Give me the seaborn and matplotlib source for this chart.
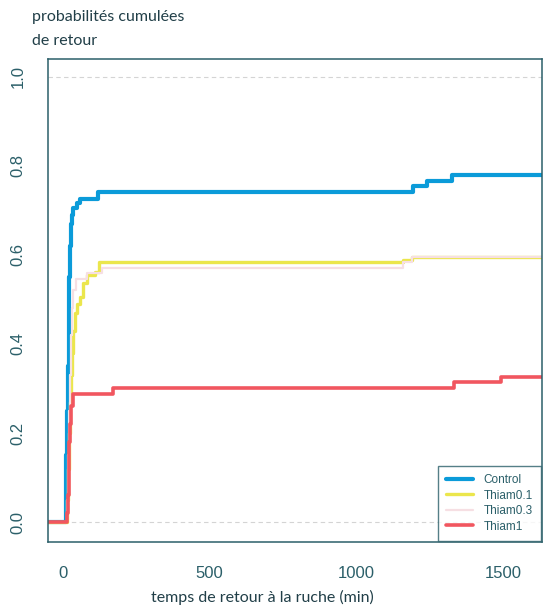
import pandas as pd
import matplotlib
matplotlib.use("Agg")
import matplotlib.pyplot as plt
import seaborn as sns

# courbes de retour cumulées
groups = ["Control", "Thiam0.1", "Thiam0.3", "Thiam1"]

t_control = [-60, 10, 12, 15, 17, 20, 22, 25, 28, 31, 33, 47, 57, 118, 1194, 1241, 1327, 1700]
p_control = [0, 0.10, 0.15, 0.25, 0.35, 0.45, 0.55, 0.62, 0.67, 0.69, 0.706, 0.717, 0.726, 0.742, 0.755, 0.766, 0.780, 0.780]

t_thiam01 = [-60, 15, 18, 20, 23, 27, 30, 35, 40, 47, 57, 67, 81, 108, 122, 1157, 1190, 1700]
p_thiam01 = [0, 0.05, 0.12, 0.20, 0.27, 0.33, 0.38, 0.43, 0.47, 0.49, 0.505, 0.537, 0.555, 0.562, 0.584, 0.588, 0.596, 0.596]

t_thiam03 = [-60, 14, 17, 20, 23, 27, 30, 35, 45, 81, 133, 1160, 1190, 1700]
p_thiam03 = [0, 0.05, 0.15, 0.25, 0.33, 0.42, 0.48, 0.52, 0.545, 0.560, 0.570, 0.584, 0.596, 0.596]

t_thiam1 = [-60, 13, 16, 19, 22, 25, 28, 33, 170, 1331, 1491, 1700]
p_thiam1 = [0, 0.02, 0.06, 0.12, 0.18, 0.22, 0.26, 0.288, 0.301, 0.315, 0.326, 0.326]

colors = ["#0b9bd9", "#ebe64c", "#f6dfe3", "#f1565f"]
widths = [3.0, 2.4, 1.6, 2.6]

xticks = [0, 500, 1000, 1500]
yticks = [0.0, 0.2, 0.4, 0.6, 0.8, 1.0]

frames = []
for g, t, p in zip(groups, [t_control, t_thiam01, t_thiam03, t_thiam1],
                   [p_control, p_thiam01, p_thiam03, p_thiam1]):
    frames.append(pd.DataFrame({"temps": t, "prob": p, "groupe": g}))
df = pd.concat(frames, ignore_index=True)

sns.set_style("white")
plt.rcParams["font.family"] = ["Liberation Sans", "DejaVu Sans"]
ink = "#2b5f69"
txt = "#213f48"

fig = plt.figure(figsize=(5.43, 6.07), dpi=100)
ax = fig.add_axes([0.0884, 0.107, 0.9098, 0.796])

for y in [0.0, 1.0]:
    ax.axhline(y, color="#d4d4d4", lw=0.8, ls=(0, (4, 3)), zorder=0)

for g, c, w in zip(groups, colors, widths):
    sns.lineplot(data=df[df["groupe"] == g], x="temps", y="prob", color=c,
                 linewidth=w, drawstyle="steps-post", estimator=None,
                 label=g, ax=ax)

ax.set_xlim(-51, 1632)
ax.set_ylim(-0.045, 1.04)
ax.set_xticks(xticks)
ax.set_xticklabels([str(v) for v in xticks])
ax.set_yticks(yticks)
ax.set_yticklabels([f"{v:.1f}" for v in yticks], rotation=90, va="center")
ax.set_xlabel("")
ax.set_ylabel("")
ax.tick_params(axis="both", direction="out", length=9, width=1, color=ink,
               labelcolor=ink, labelsize=12)
ax.tick_params(axis="x", pad=8)
ax.tick_params(axis="y", pad=7)
for s in ax.spines.values():
    s.set_color(ink)
    s.set_linewidth(1.1)

leg = ax.legend(loc="lower right", borderaxespad=0.1, fancybox=False,
                frameon=True, fontsize=8.5, handlelength=2.3,
                labelspacing=0.3, borderpad=0.7, handletextpad=0.85)
leg.get_frame().set_edgecolor(ink)
leg.get_frame().set_linewidth(1.0)
for t in leg.get_texts():
    t.set_color(ink)

fig.text(0.059, 0.972, "probabilités cumulées", fontsize=11.5,
         family="Lato", color=txt, va="center", ha="left")
fig.text(0.059, 0.932, "de retour", fontsize=11.5,
         family="Lato", color=txt, va="center", ha="left")
fig.text(0.483, 0.015, "temps de retour à la ruche (min)", fontsize=11.5,
         family="Lato", color=txt, va="center", ha="center")

fig.savefig("out.png", dpi=100)
